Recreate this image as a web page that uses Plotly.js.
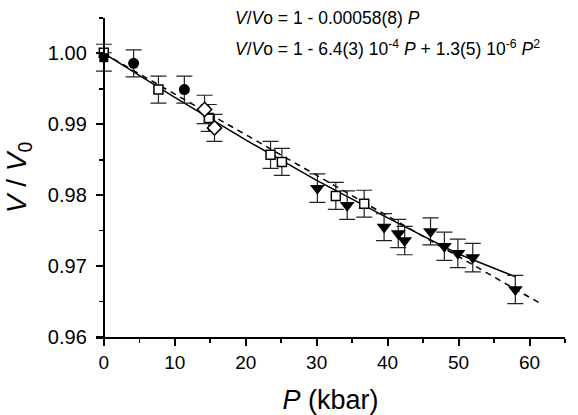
<!DOCTYPE html>
<html>
<head>
<meta charset="utf-8">
<script src="https://cdn.plot.ly/plotly-3.0.1.min.js"></script>
<style>html,body{margin:0;padding:0;background:#fff;}#chart{width:578px;height:415px;}</style>
</head>
<body>
<div id="chart"></div>
<script>
// Data
const sqFilledP = [0];
const sqFilledV = [0.9994];
const sqFilledErr = [0.0019];

const sqOpenP = [0, 7.7, 14.8, 23.5, 25.1, 32.7, 36.7];
const sqOpenV = [1.0001, 0.9949, 0.9909, 0.9857, 0.9847, 0.9799, 0.9788];
const sqOpenErr = [0, 0.0019, 0.0019, 0.0019, 0.0019, 0.0019, 0.0019];

const circP = [4.2, 11.35];
const circV = [0.9986, 0.9949];
const circErr = [0.0019, 0.0019];

const diaP = [14.2, 15.6];
const diaV = [0.9921, 0.9895];
const diaErr = [0.0020, 0.0019];

const triP = [30.1, 34.3, 39.5, 41.5, 42.4, 46.05, 48.0, 49.9, 52.0, 58.0];
const triV = [0.9810, 0.9786, 0.9755, 0.9746, 0.9736, 0.9749, 0.9728, 0.9718, 0.9712, 0.9667];
const triErr = [0.0020, 0.0020, 0.0019, 0.0020, 0.0020, 0.0019, 0.0020, 0.0020, 0.0020, 0.0020];

// fit curves
const solidP = [0, 10, 20, 30, 40, 50, 58];
const solidV = [1.0000, 0.9938, 0.9878, 0.9821, 0.9768, 0.9717, 0.9685];
const dashP = [0, 61.4];
const dashV = [1.0000, 0.9648];

const xTickVals = [0, 10, 20, 30, 40, 50, 60];
const yTickVals = [0.96, 0.97, 0.98, 0.99, 1.00];
const yTickText = ['0.96', '0.97', '0.98', '0.99', '1.00'];

const FONT = 'Liberation Sans, Arial, sans-serif';
const errStyle = (arr) => ({type: 'data', array: arr, visible: true, color: '#222', thickness: 1.2, width: 8});

const traces = [
  {x: solidP, y: solidV, mode: 'lines', line: {color: '#000', width: 1.5}, hoverinfo: 'skip'},
  {x: dashP, y: dashV, mode: 'lines', line: {color: '#000', width: 1.5, dash: '6px,5px'}, hoverinfo: 'skip'},
  {x: sqOpenP, y: sqOpenV, mode: 'markers', error_y: errStyle(sqOpenErr),
   marker: {symbol: 'square', size: 9, color: '#fff', line: {color: '#000', width: 1.5}}},
  {x: sqFilledP, y: sqFilledV, mode: 'markers', error_y: errStyle(sqFilledErr),
   marker: {symbol: 'square', size: 9, color: '#000'}},
  {x: circP, y: circV, mode: 'markers', error_y: errStyle(circErr),
   marker: {symbol: 'circle', size: 11, color: '#000'}},
  {x: diaP, y: diaV, mode: 'markers', error_y: errStyle(diaErr),
   marker: {symbol: 'diamond', size: 11, color: '#fff', line: {color: '#000', width: 1.5}}},
  {x: triP, y: triV, mode: 'markers', error_y: errStyle(triErr),
   marker: {symbol: 'triangle-down', size: 13, color: '#000'}}
];

const xMin = -1.1, xMax = 65;
const layout = {
  width: 578, height: 415,
  margin: {l: 95.5, r: 12.5, t: 17.8, b: 77.7, pad: 0},
  paper_bgcolor: '#fff', plot_bgcolor: '#fff',
  showlegend: false,
  font: {family: FONT, color: '#000'},
  xaxis: {
    range: [xMin, xMax], showgrid: false, zeroline: false,
    showline: true, linecolor: '#000', linewidth: 2,
    ticks: 'outside', ticklen: 7, tickwidth: 2, tickcolor: '#000',
    tickvals: xTickVals, tickfont: {size: 19, family: FONT},
    minor: {dtick: 5, tick0: 0, ticks: 'outside', ticklen: 4, tickwidth: 1.5, tickcolor: '#000', showgrid: false},
    title: {text: '<i>P</i> (kbar)', font: {size: 27, family: FONT}, standoff: 18},
    automargin: false
  },
  yaxis: {
    range: [0.96, 1.005], showgrid: false, zeroline: false,
    anchor: 'free', position: (0 - xMin) / (xMax - xMin),
    showline: true, linecolor: '#000', linewidth: 2,
    ticks: 'outside', ticklen: 7, tickwidth: 2, tickcolor: '#000',
    tickvals: yTickVals, ticktext: yTickText, tickfont: {size: 20, family: FONT},
    ticklabelstandoff: 5,
    minor: {dtick: 0.005, tick0: 0.96, ticks: 'outside', ticklen: 4, tickwidth: 1.5, tickcolor: '#000', showgrid: false},
    title: {text: '<i>V</i> / <i>V</i><sub>0</sub>', font: {size: 28, family: FONT}, standoff: 12},
    automargin: false
  },
  annotations: [
    {xref: 'paper', yref: 'paper', x: 0.293, y: 1.0, xanchor: 'left', yanchor: 'middle', showarrow: false,
     text: '<i>V</i>/<i>V</i>o = 1 - 0.00058(8) <i>P</i>', font: {size: 17.5, family: FONT}},
    {xref: 'paper', yref: 'paper', x: 0.293, y: 0.905, xanchor: 'left', yanchor: 'middle', showarrow: false,
     text: '<i>V</i>/<i>V</i>o = 1 - 6.4(3) 10<sup>-4</sup> <i>P</i> + 1.3(5) 10<sup>-6</sup> <i>P</i><sup>2</sup>', font: {size: 17.5, family: FONT}}
  ]
};

Plotly.newPlot('chart', traces, layout, {staticPlot: true, displayModeBar: false});
</script>
</body>
</html>
